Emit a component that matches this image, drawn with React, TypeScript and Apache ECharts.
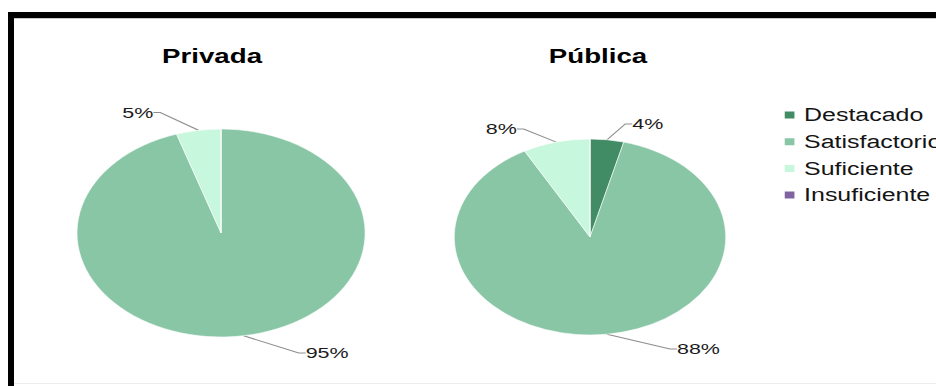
import React, { useEffect, useRef } from "react";
import * as echarts from "echarts";

// ---- data ----
const categories = ["Destacado", "Satisfactorio", "Suficiente", "Insuficiente"];
const pieTitles = ["Privada", "Pública"];
const privadaValues = [0, 95, 5, 0];
const publicaValues = [4, 88, 8, 0];
const colors = ["#418B65", "#89C6A6", "#C7F7DC", "#8064A2"];

// ---- layout (unscaled space; whole chart is stretched horizontally like the reference) ----
const S = 1.385;
const W = 936 / S;
const H = 386;
const pieLayout = [
  { center: [159.6, 233], radius: 104, titleX: 153.1, titleY: 55.5 },
  { center: [426.0, 237], radius: 98, titleX: 431.8, titleY: 55.5 },
];
// label offsets from the slice anchor point [dx, dy, align]
const labelOffsets: Record<string, [number, number, string]> = {
  "0-1": [44.8, 17.3, "left"],
  "0-2": [-32.6, -17.8, "right"],
  "1-0": [18.2, -15.8, "left"],
  "1-1": [50.5, 14.8, "left"],
  "1-2": [-28.5, -13.1, "right"],
};

const FONT = "'Liberation Sans', Arial, sans-serif";

export default function App() {
  const ref = useRef<HTMLDivElement>(null);

  useEffect(() => {
    if (!ref.current) return;
    const chart = echarts.init(ref.current, undefined, { renderer: "svg" });
    const allValues = [privadaValues, publicaValues];

    const series = allValues.map((vals, si) => ({
      type: "pie",
      name: pieTitles[si],
      center: pieLayout[si].center,
      radius: pieLayout[si].radius,
      startAngle: 90,
      clockwise: true,
      avoidLabelOverlap: false,
      silent: true,
      itemStyle: { borderColor: "#ffffff", borderWidth: 0.5 },
      label: {
        show: true,
        position: "outside",
        formatter: "{c}%",
        fontFamily: FONT,
        fontSize: 15.5,
        color: "#1c1c1c",
      },
      labelLine: {
        show: true,
        length: 10,
        length2: 5,
        lineStyle: { color: "#8f8f8f", width: 1 },
      },
      labelLayout: (p: any) => {
        const off = labelOffsets[`${si}-${p.dataIndex}`];
        if (!off || !p.labelLinePoints) return {};
        const a = p.labelLinePoints[0];
        return {
          x: a[0] + off[0],
          y: a[1] + off[1],
          align: off[2],
          verticalAlign: "middle",
        };
      },
      data: categories.map((name, i) => ({
        name,
        value: vals[i],
        itemStyle: { color: colors[i] },
        ...(vals[i] === 0
          ? { label: { show: false }, labelLine: { show: false } }
          : {}),
      })),
    }));

    chart.setOption({
      animation: false,
      backgroundColor: "#ffffff",
      color: colors,
      title: pieTitles.map((t, i) => ({
        text: t,
        left: pieLayout[i].titleX,
        top: pieLayout[i].titleY,
        textAlign: "center",
        textVerticalAlign: "middle",
        padding: 0,
        textStyle: {
          fontFamily: FONT,
          fontSize: 20,
          fontWeight: "bold",
          color: "#000000",
        },
      })),
      legend: {
        orient: "vertical",
        left: 564.6,
        top: 106,
        padding: 0,
        icon: "rect",
        itemWidth: 9,
        itemHeight: 9,
        itemGap: 8.7,
        selectedMode: false,
        data: categories,
        textStyle: {
          fontFamily: FONT,
          fontSize: 18,
          lineHeight: 18,
          color: "#141414",
          padding: [0, 0, 0, 1],
        },
      },
      series,
    });
    return () => chart.dispose();
  }, []);

  return (
    <div
      style={{
        position: "fixed",
        left: 0,
        top: 0,
        width: 936,
        height: 386,
        overflow: "hidden",
        background: "#ffffff",
      }}
    >
      <div
        ref={ref}
        style={{
          position: "absolute",
          left: 0,
          top: 0,
          width: W,
          height: H,
          transform: `scaleX(${S})`,
          transformOrigin: "0 0",
        }}
      />
      <div style={{ position: "absolute", left: 8, top: 12, width: 928, height: 6, background: "#000" }} />
      <div style={{ position: "absolute", left: 14, top: 18, width: 922, height: 1, background: "#c8c8c8" }} />
      <div style={{ position: "absolute", left: 8, top: 12, width: 6, height: 374, background: "#000" }} />
      <div style={{ position: "absolute", left: 14, top: 383, width: 922, height: 1, background: "#ececec" }} />
    </div>
  );
}
